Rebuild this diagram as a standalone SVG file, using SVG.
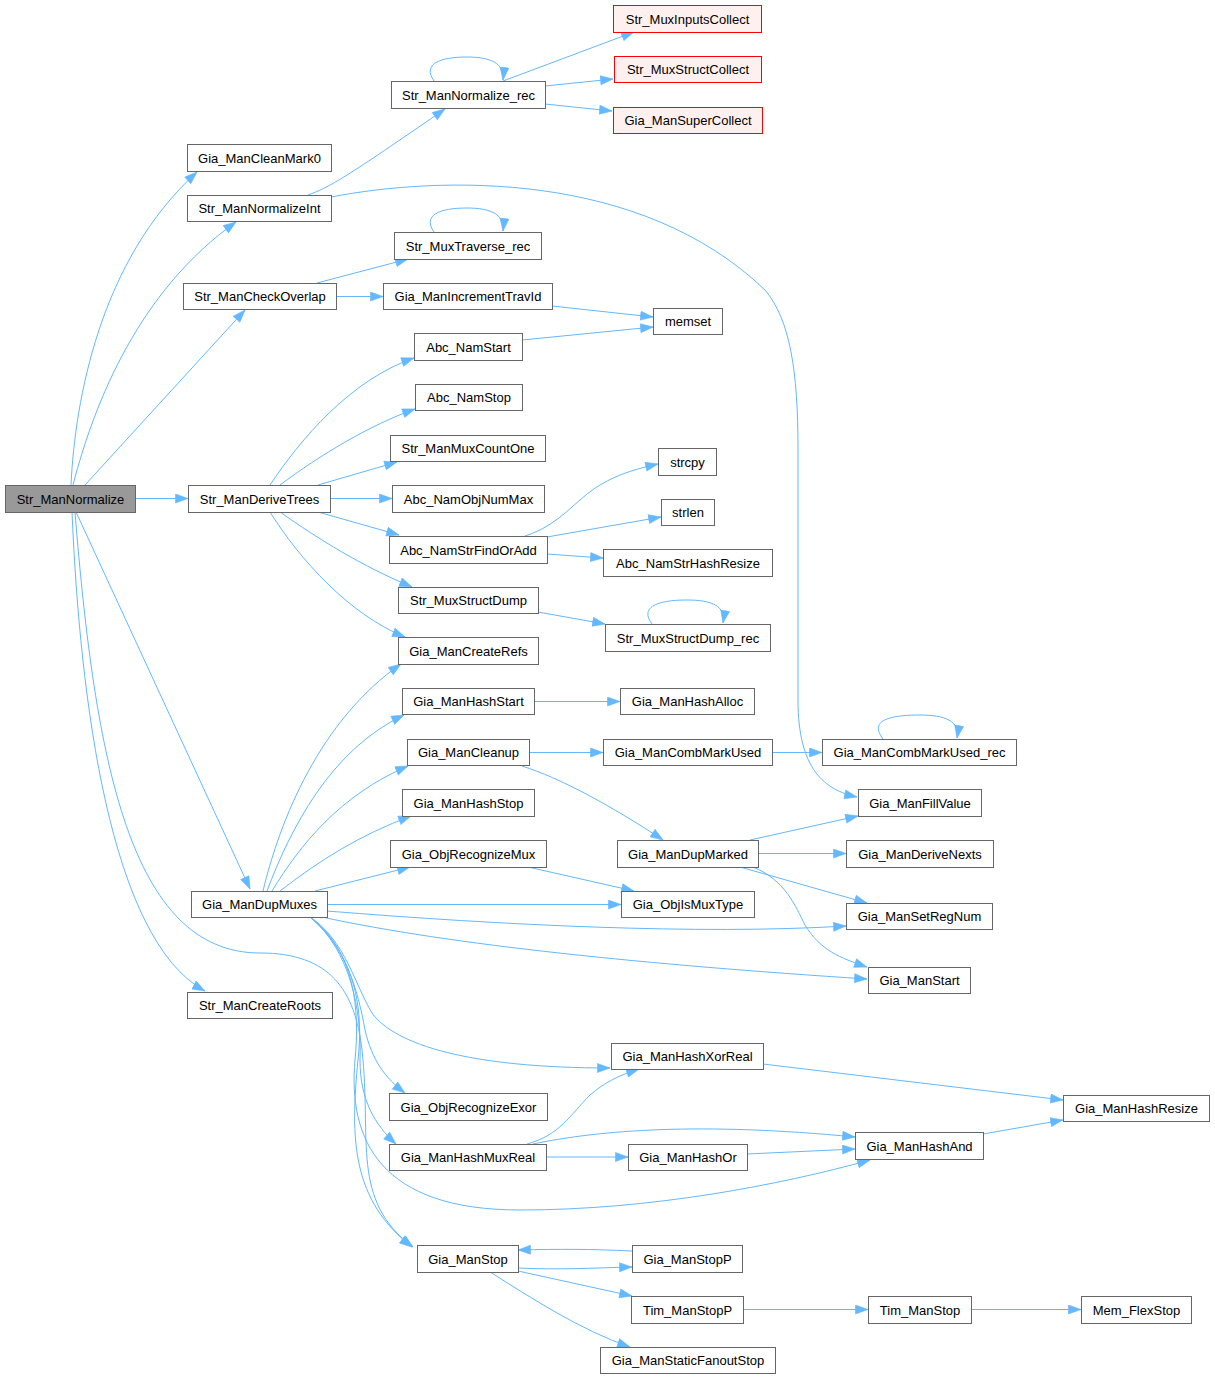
<svg xmlns="http://www.w3.org/2000/svg" width="1215" height="1379" viewBox="0 0 1215 1379">
<style>
.n rect{fill:#ffffff;stroke:#666666;stroke-width:1}
.n.r rect{fill:#fff0f0;stroke:#ff0000}
.n.g rect{fill:#999999;stroke:#666666}
.n text{font-family:"Liberation Sans",Arial,sans-serif;font-size:13px;fill:#000000;text-anchor:middle}
.e path{fill:none;stroke:#63b8ff;stroke-width:1;marker-end:url(#a)}
</style>
<defs>
<marker id="a" markerWidth="14" markerHeight="11" refX="13" refY="5" orient="auto" markerUnits="userSpaceOnUse">
<path d="M0.5,0.5 L13,5 L0.5,9.5 Z" fill="#63b8ff" stroke="#63b8ff" stroke-width="0.6"/>
</marker>
</defs>
<rect width="1215" height="1379" fill="#ffffff"/>
<g id="edges" class="e">
<path d="M71,485 C75,400 100,260 197,172"/>
<path d="M73,485 C95,400 140,290 236,222"/>
<path d="M85,485 L245,310"/>
<path d="M135,498.5 L188,498.5"/>
<path d="M76,512 L250,889"/>
<path d="M72,512 C80,700 110,940 205,991"/>
<path d="M75,512 C95,760 130,953 260,953 C330,953 355,990 362,1050 C372,1140 350,1200 413,1247"/>
<path d="M308,195 C330,187 345,178 445,109"/>
<path d="M331,197 C440,176 640,170 765,290 C790,320 798,370 798,450 L798,700 C798,770 825,790 857,797"/>
<path d="M434,81 C422,64 440,57 467,57 C490,57 505,63 503,80"/>
<path d="M503,81 L634,32"/>
<path d="M545,86 L613,79"/>
<path d="M545,104 L612,111"/>
<path d="M317,283 L408,259"/>
<path d="M336,296.5 L383,296.5"/>
<path d="M434,232 C422,215 440,208 467,208 C490,208 505,214 503,231"/>
<path d="M552,306 L653,317"/>
<path d="M522,340 L653,327"/>
<path d="M270,485 C300,440 350,380 414,358"/>
<path d="M280,485 C320,455 370,425 415,409"/>
<path d="M318,485 L397,462"/>
<path d="M330,498.5 L392,498.5"/>
<path d="M318,512 L399,535"/>
<path d="M280,512 C320,540 360,565 412,587"/>
<path d="M270,512 C300,560 350,615 405,637"/>
<path d="M525,536 C560,525 575,500 600,485 C620,473 640,468 658,464"/>
<path d="M547,537 L661,517"/>
<path d="M547,554 L603,558"/>
<path d="M538,612 L605,624"/>
<path d="M652,624 C640,608 655,600 687,600 C712,600 726,606 723,623"/>
<path d="M263,891 C280,820 320,720 401,664"/>
<path d="M267,891 C290,830 330,750 404,715"/>
<path d="M272,891 C300,845 340,795 408,766"/>
<path d="M280,891 C320,860 360,835 411,816"/>
<path d="M315,891 L410,867"/>
<path d="M327,904.5 L621,904.5"/>
<path d="M327,911 C500,925 700,935 846,926"/>
<path d="M322,917 C450,945 650,965 867,979"/>
<path d="M310,917 C345,940 355,985 372,1013 C395,1045 470,1068 610,1068"/>
<path d="M310,917 C345,945 358,990 365,1030 C372,1060 385,1078 405,1093"/>
<path d="M310,917 C350,950 362,1010 360,1060 C360,1100 375,1125 396,1144"/>
<path d="M310,917 C355,950 360,1010 355,1060 C348,1140 380,1210 520,1210 C650,1210 780,1185 870,1160"/>
<path d="M310,917 C350,950 365,1000 358,1060 C350,1140 352,1200 412,1247"/>
<path d="M534,701.5 L620,701.5"/>
<path d="M529,752.5 L603,752.5"/>
<path d="M522,766 C560,778 610,805 663,840"/>
<path d="M772,752.5 L822,752.5"/>
<path d="M883,739 C870,722 885,715 920,715 C945,715 960,721 957,738"/>
<path d="M528,867 L634,891"/>
<path d="M750,840 L858,816"/>
<path d="M758,853.5 L846,853.5"/>
<path d="M740,867 L867,903"/>
<path d="M753,867 C785,880 795,905 805,925 C820,950 840,958 867,967"/>
<path d="M763,1064 L1063,1100"/>
<path d="M527,1144 C560,1135 570,1115 590,1095 C605,1082 620,1075 639,1069"/>
<path d="M533,1144 C600,1130 700,1122 855,1137"/>
<path d="M546,1157 L628,1157"/>
<path d="M747,1154 L855,1149"/>
<path d="M983,1134 L1063,1120"/>
<path d="M518,1268 C560,1270 590,1268 632,1267"/>
<path d="M632,1251 C590,1249 560,1249 518,1250"/>
<path d="M518,1271 L632,1296"/>
<path d="M490,1272 C530,1297 580,1330 630,1347"/>
<path d="M743,1309.5 L868,1309.5"/>
<path d="M971,1309.5 L1081,1309.5"/>
</g>
<g id="n0" class="n g"><rect x="5.5" y="485.5" width="130" height="27"/><text x="70.5" y="503.5">Str_ManNormalize</text></g>
<g id="n1" class="n"><rect x="187.5" y="144.5" width="144" height="27"/><text x="259.5" y="162.5">Gia_ManCleanMark0</text></g>
<g id="n2" class="n"><rect x="187.5" y="195.5" width="144" height="26"/><text x="259.5" y="213">Str_ManNormalizeInt</text></g>
<g id="n3" class="n"><rect x="391.5" y="81.5" width="154" height="27"/><text x="468.5" y="99.5">Str_ManNormalize_rec</text></g>
<g id="n4" class="n r"><rect x="613.5" y="5.5" width="148" height="27"/><text x="687.5" y="23.5">Str_MuxInputsCollect</text></g>
<g id="n5" class="n r"><rect x="614.5" y="56.5" width="147" height="26"/><text x="688" y="74">Str_MuxStructCollect</text></g>
<g id="n6" class="n r"><rect x="613.5" y="107.5" width="149" height="26"/><text x="688" y="125">Gia_ManSuperCollect</text></g>
<g id="n7" class="n"><rect x="183.5" y="283.5" width="153" height="26"/><text x="260" y="301">Str_ManCheckOverlap</text></g>
<g id="n8" class="n"><rect x="394.5" y="232.5" width="147" height="27"/><text x="468" y="250.5">Str_MuxTraverse_rec</text></g>
<g id="n9" class="n"><rect x="383.5" y="283.5" width="169" height="26"/><text x="468" y="301">Gia_ManIncrementTravId</text></g>
<g id="n10" class="n"><rect x="653.5" y="308.5" width="69" height="26"/><text x="688" y="326">memset</text></g>
<g id="n11" class="n"><rect x="188.5" y="485.5" width="142" height="27"/><text x="259.5" y="503.5">Str_ManDeriveTrees</text></g>
<g id="n12" class="n"><rect x="414.5" y="333.5" width="108" height="27"/><text x="468.5" y="351.5">Abc_NamStart</text></g>
<g id="n13" class="n"><rect x="415.5" y="384.5" width="107" height="26"/><text x="469" y="402">Abc_NamStop</text></g>
<g id="n14" class="n"><rect x="390.5" y="435.5" width="155" height="26"/><text x="468" y="453">Str_ManMuxCountOne</text></g>
<g id="n15" class="n"><rect x="392.5" y="485.5" width="152" height="27"/><text x="468.5" y="503.5">Abc_NamObjNumMax</text></g>
<g id="n16" class="n"><rect x="389.5" y="536.5" width="158" height="27"/><text x="468.5" y="554.5">Abc_NamStrFindOrAdd</text></g>
<g id="n17" class="n"><rect x="398.5" y="587.5" width="140" height="26"/><text x="468.5" y="605">Str_MuxStructDump</text></g>
<g id="n18" class="n"><rect x="398.5" y="637.5" width="140" height="27"/><text x="468.5" y="655.5">Gia_ManCreateRefs</text></g>
<g id="n19" class="n"><rect x="658.5" y="448.5" width="58" height="27"/><text x="687.5" y="466.5">strcpy</text></g>
<g id="n20" class="n"><rect x="661.5" y="499.5" width="53" height="26"/><text x="688" y="517">strlen</text></g>
<g id="n21" class="n"><rect x="603.5" y="549.5" width="169" height="27"/><text x="688" y="567.5">Abc_NamStrHashResize</text></g>
<g id="n22" class="n"><rect x="605.5" y="624.5" width="165" height="27"/><text x="688" y="642.5">Str_MuxStructDump_rec</text></g>
<g id="n23" class="n"><rect x="191.5" y="891.5" width="136" height="26"/><text x="259.5" y="909">Gia_ManDupMuxes</text></g>
<g id="n24" class="n"><rect x="402.5" y="688.5" width="132" height="26"/><text x="468.5" y="706">Gia_ManHashStart</text></g>
<g id="n25" class="n"><rect x="620.5" y="688.5" width="134" height="26"/><text x="687.5" y="706">Gia_ManHashAlloc</text></g>
<g id="n26" class="n"><rect x="407.5" y="739.5" width="122" height="26"/><text x="468.5" y="757">Gia_ManCleanup</text></g>
<g id="n27" class="n"><rect x="603.5" y="739.5" width="169" height="26"/><text x="688" y="757">Gia_ManCombMarkUsed</text></g>
<g id="n28" class="n"><rect x="822.5" y="739.5" width="194" height="26"/><text x="919.5" y="757">Gia_ManCombMarkUsed_rec</text></g>
<g id="n29" class="n"><rect x="402.5" y="789.5" width="132" height="27"/><text x="468.5" y="807.5">Gia_ManHashStop</text></g>
<g id="n30" class="n"><rect x="858.5" y="789.5" width="123" height="27"/><text x="920" y="807.5">Gia_ManFillValue</text></g>
<g id="n31" class="n"><rect x="390.5" y="840.5" width="156" height="27"/><text x="468.5" y="858.5">Gia_ObjRecognizeMux</text></g>
<g id="n32" class="n"><rect x="617.5" y="840.5" width="141" height="27"/><text x="688" y="858.5">Gia_ManDupMarked</text></g>
<g id="n33" class="n"><rect x="846.5" y="840.5" width="147" height="27"/><text x="920" y="858.5">Gia_ManDeriveNexts</text></g>
<g id="n34" class="n"><rect x="621.5" y="891.5" width="133" height="26"/><text x="688" y="909">Gia_ObjIsMuxType</text></g>
<g id="n35" class="n"><rect x="846.5" y="903.5" width="146" height="26"/><text x="919.5" y="921">Gia_ManSetRegNum</text></g>
<g id="n36" class="n"><rect x="868.5" y="967.5" width="102" height="26"/><text x="919.5" y="985">Gia_ManStart</text></g>
<g id="n37" class="n"><rect x="187.5" y="992.5" width="145" height="26"/><text x="260" y="1010">Str_ManCreateRoots</text></g>
<g id="n38" class="n"><rect x="611.5" y="1043.5" width="152" height="26"/><text x="687.5" y="1061">Gia_ManHashXorReal</text></g>
<g id="n39" class="n"><rect x="389.5" y="1093.5" width="158" height="27"/><text x="468.5" y="1111.5">Gia_ObjRecognizeExor</text></g>
<g id="n40" class="n"><rect x="389.5" y="1144.5" width="157" height="26"/><text x="468" y="1162">Gia_ManHashMuxReal</text></g>
<g id="n41" class="n"><rect x="628.5" y="1144.5" width="119" height="26"/><text x="688" y="1162">Gia_ManHashOr</text></g>
<g id="n42" class="n"><rect x="1063.5" y="1095.5" width="146" height="26"/><text x="1136.5" y="1113">Gia_ManHashResize</text></g>
<g id="n43" class="n"><rect x="855.5" y="1132.5" width="128" height="27"/><text x="919.5" y="1150.5">Gia_ManHashAnd</text></g>
<g id="n44" class="n"><rect x="417.5" y="1245.5" width="101" height="27"/><text x="468" y="1263.5">Gia_ManStop</text></g>
<g id="n45" class="n"><rect x="632.5" y="1245.5" width="110" height="27"/><text x="687.5" y="1263.5">Gia_ManStopP</text></g>
<g id="n46" class="n"><rect x="631.5" y="1296.5" width="112" height="27"/><text x="687.5" y="1314.5">Tim_ManStopP</text></g>
<g id="n47" class="n"><rect x="868.5" y="1296.5" width="103" height="27"/><text x="920" y="1314.5">Tim_ManStop</text></g>
<g id="n48" class="n"><rect x="1081.5" y="1296.5" width="110" height="27"/><text x="1136.5" y="1314.5">Mem_FlexStop</text></g>
<g id="n49" class="n"><rect x="600.5" y="1347.5" width="175" height="26"/><text x="688" y="1365">Gia_ManStaticFanoutStop</text></g>
</svg>
